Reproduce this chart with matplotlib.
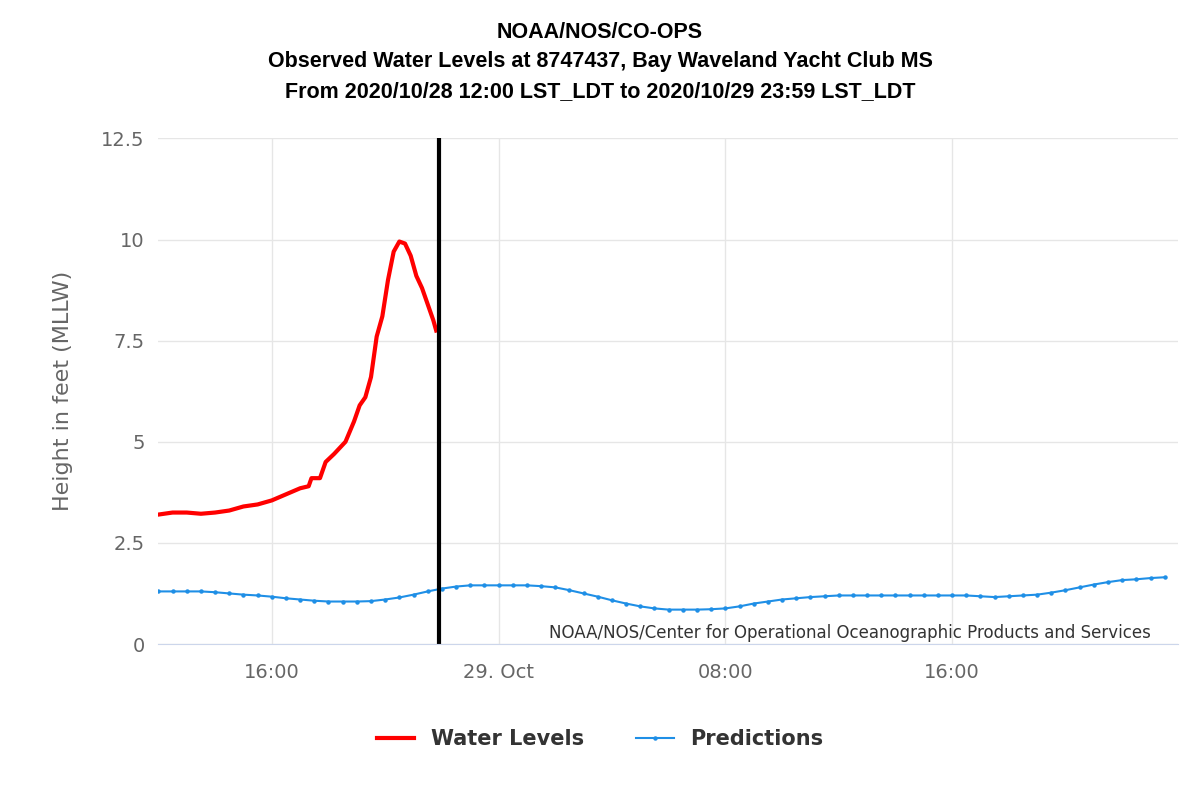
import matplotlib
matplotlib.use("Agg")
import matplotlib.pyplot as plt
import pandas as pd

# ..............................................................................
wl_times = ["2020-10-28 12:00", "2020-10-28 12:30", "2020-10-28 13:00", "2020-10-28 13:30",
            "2020-10-28 14:00", "2020-10-28 14:30", "2020-10-28 15:00", "2020-10-28 15:30",
            "2020-10-28 16:00", "2020-10-28 16:30", "2020-10-28 17:00", "2020-10-28 17:18",
            "2020-10-28 17:24", "2020-10-28 17:42", "2020-10-28 17:54", "2020-10-28 18:12",
            "2020-10-28 18:36", "2020-10-28 18:54", "2020-10-28 19:06", "2020-10-28 19:18",
            "2020-10-28 19:30", "2020-10-28 19:42", "2020-10-28 19:54", "2020-10-28 20:06",
            "2020-10-28 20:18", "2020-10-28 20:30", "2020-10-28 20:42", "2020-10-28 20:54",
            "2020-10-28 21:06", "2020-10-28 21:18", "2020-10-28 21:30", "2020-10-28 21:42",
            "2020-10-28 21:48"]
wl_values = [3.2, 3.25, 3.25, 3.22, 3.25, 3.3, 3.4, 3.45, 3.55, 3.7, 3.85, 3.9,
             4.1, 4.1, 4.5, 4.7, 5.0, 5.5, 5.9, 6.1, 6.6, 7.6, 8.1, 9.0, 9.7, 9.95, 9.9,
             9.6, 9.1, 8.8, 8.4, 8.0, 7.75]

# half-hourly predictions, 2020-10-28 12:00 .. 2020-10-29 23:30
pred_start = "2020-10-28 12:00"
pred_values = [1.3, 1.3, 1.3, 1.3, 1.28, 1.25, 1.22, 1.2, 1.17, 1.13, 1.1, 1.07,
               1.05, 1.05, 1.05, 1.06, 1.1, 1.15, 1.22, 1.3, 1.37, 1.42, 1.45, 1.45,
               1.45, 1.45, 1.45, 1.43, 1.4, 1.33, 1.25, 1.17, 1.08, 1.0, 0.93, 0.88,
               0.85, 0.85, 0.85, 0.86, 0.88, 0.93, 1.0, 1.05, 1.1, 1.13, 1.16, 1.18,
               1.2, 1.2, 1.2, 1.2, 1.2, 1.2, 1.2, 1.2, 1.2, 1.2, 1.18, 1.16,
               1.18, 1.2, 1.22, 1.27, 1.33, 1.4, 1.47, 1.53, 1.58, 1.6, 1.63, 1.65]
pred_times = pd.date_range(pred_start, periods=len(pred_values), freq="30min")

now_line = "2020-10-28 21:54"

# ..............................................................................
fig = plt.figure(figsize=(12, 8), dpi=100)
ax = fig.add_axes([0.132, 0.195, 0.85, 0.632])

ax.plot(pd.to_datetime(wl_times), wl_values, color="#ff0000", lw=3, label="Water Levels")
ax.plot(pred_times, pred_values, color="#1f8fe6", lw=1.5, marker="o", ms=2.2,
        label="Predictions")
ax.axvline(pd.Timestamp(now_line), color="black", lw=3)

ax.set_xlim(pd.Timestamp("2020-10-28 12:00"), pd.Timestamp("2020-10-29 23:59"))
ax.set_ylim(0, 12.5)
ax.set_yticks([0, 2.5, 5, 7.5, 10, 12.5])
ax.set_yticklabels(["0", "2.5", "5", "7.5", "10", "12.5"])
xt = pd.to_datetime(["2020-10-28 16:00", "2020-10-29 00:00", "2020-10-29 08:00", "2020-10-29 16:00"])
ax.set_xticks(xt)
ax.set_xticklabels(["16:00", "29. Oct", "08:00", "16:00"])

ax.grid(color="#e6e6e6", lw=1)
ax.set_axisbelow(True)
for s in ["top", "right", "left"]:
    ax.spines[s].set_visible(False)
ax.spines["bottom"].set_color("#ccd6eb")
ax.tick_params(axis="both", length=0, labelsize=14, colors="#666666", pad=10)
ax.tick_params(axis="x", pad=14)
ax.set_ylabel("Height in feet (MLLW)", fontsize=16, color="#666666", labelpad=20)

fig.suptitle("NOAA/NOS/CO-OPS\nObserved Water Levels at 8747437, Bay Waveland Yacht Club MS\n"
             "From 2020/10/28 12:00 LST_LDT to 2020/10/29 23:59 LST_LDT",
             y=0.973, fontsize=15.5, fontweight="bold", family="Liberation Sans", linespacing=1.55)
ax.text(0.973, 0.003, "NOAA/NOS/Center for Operational Oceanographic Products and Services",
        transform=ax.transAxes, ha="right", va="bottom", fontsize=12, color="#333333",
        family="DejaVu Sans")

fig.legend(loc="lower center", bbox_to_anchor=(0.5, 0.04), ncol=2, frameon=False,
           prop={"size": 15, "weight": "bold"}, handlelength=1.8, columnspacing=2.5,
           labelcolor="#333333")

fig.savefig("out.png")
